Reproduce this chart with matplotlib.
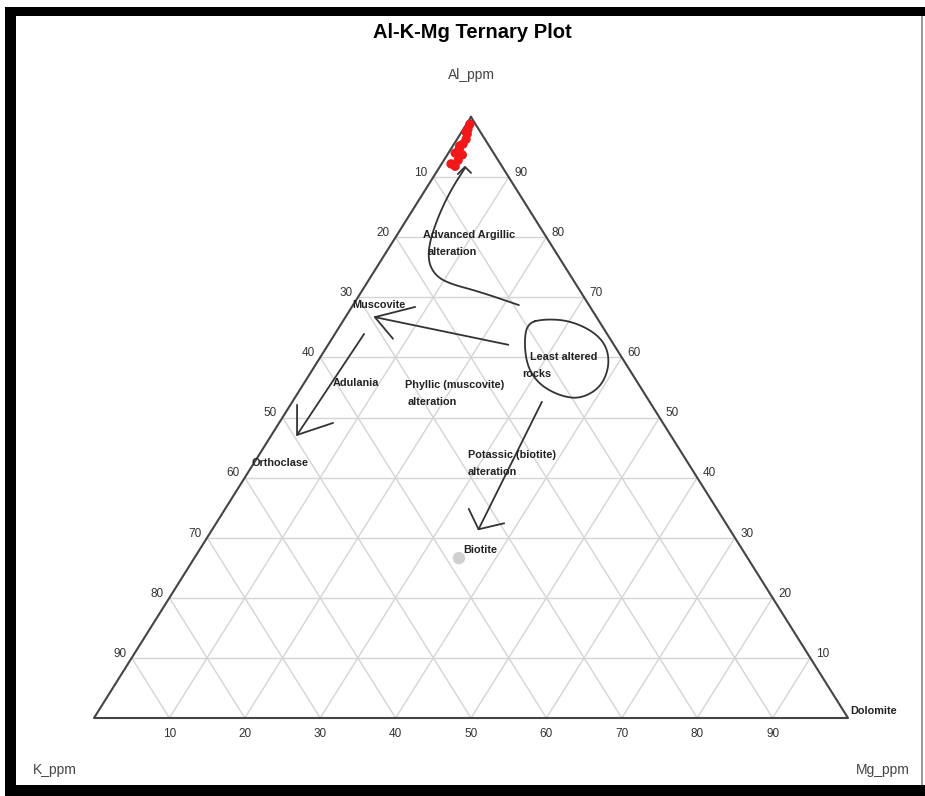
import numpy as np
import matplotlib
matplotlib.use("Agg")
import matplotlib.pyplot as plt
from matplotlib.patches import Rectangle

plt.rcParams['font.family'] = ['Liberation Sans', 'DejaVu Sans']

# sample points (percent)
al_pts = [98.8, 98.0, 97.5, 97.2, 96.3, 95.5, 95.2, 94.7, 94.0, 93.7, 92.8, 92.2, 91.8]
mg_pts = [0.45, 0.6, 0.6, 0.9, 1.2, 1.2, 0.9, 1.1, 0.9, 2.0, 1.9, 1.25, 2.0]
k_pts = [0.75, 1.4, 1.9, 1.9, 2.5, 3.3, 3.9, 4.2, 5.1, 4.3, 5.3, 6.55, 6.2]

# reference mineral (Biotite)
biotite_al, biotite_k, biotite_mg = 26.6, 38.3, 35.1

tick_vals = [10, 20, 30, 40, 50, 60, 70, 80, 90]

# hand drawn sketches, (Al, Mg) pairs in percent
argillic_path = [(68.7, 22.0), (70.9, 15.75), (72.4, 10.6), (73.9, 8.15), (76.2, 6.2),
                 (79.5, 4.8), (84.2, 3.8), (88.2, 3.4), (91.5, 3.45)]
argillic_head = [(90.5, 3.0), (91.7, 3.35), (90.7, 4.66)]
musc_path = [(62.1, 23.9), (66.7, 3.9)]
musc_head = [(68.4, 8.4), (66.7, 3.9), (63.1, 8.1)]
orth_path = [(63.9, 3.87), (47.1, 3.38)]
orth_head = [(52.1, 0.88), (47.1, 3.38), (49.1, 7.16)]
pot_path = [(52.6, 33.1), (31.4, 35.3)]
pot_head = [(34.8, 32.3), (31.4, 35.3), (32.4, 38.2)]
loop_path = [(65.7, 24.57), (66.4, 26.6), (66.1, 30.1), (64.2, 34.3), (61.6, 37.3),
             (58.2, 39.2), (54.9, 39.65), (53.1, 37.9), (53.6, 35.0), (55.4, 31.45),
             (58.2, 28.45), (62.1, 26.0)]

# field labels: text, Al, Mg
labels = [
    ("Advanced Argillic", 80.4, 3.45),
    ("alteration", 77.5, 5.5),
    ("Muscovite", 68.7, -0.1),
    ("Least altered", 60.1, 27.8),
    ("rocks", 57.2, 28.2),
    ("Adulania", 55.7, 3.8),
    ("Phyllic (muscovite)", 55.4, 13.5),
    ("alteration", 52.6, 15.35),
    ("Orthoclase", 42.4, -0.3),
    ("Potassic (biotite)", 43.8, 27.7),
    ("alteration", 40.9, 29.1),
    ("Biotite", 28.0, 34.95),
    ("Dolomite", 1.2, 99.7),
]


def to_xy(al, mg):
    al = np.asarray(al, dtype=float)
    mg = np.asarray(mg, dtype=float)
    return mg + al / 2.0, al


def chaikin(pts, n=3, closed=False):
    pts = np.asarray(pts, dtype=float)
    for _ in range(n):
        if closed:
            nxt = np.roll(pts, -1, axis=0)
        else:
            nxt = pts[1:]
            pts = pts[:-1]
        q = 0.75 * pts + 0.25 * nxt
        r = 0.25 * pts + 0.75 * nxt
        new = np.empty((2 * len(q), 2))
        new[0::2] = q
        new[1::2] = r
        if not closed:
            new = np.vstack([pts[:1], new, nxt[-1:]])
        pts = new
    if closed:
        pts = np.vstack([pts, pts[:1]])
    return pts


W, H = 925, 796
fig = plt.figure(figsize=(W / 100, H / 100), dpi=100)
ax = fig.add_axes([0, 0, 1, 1])
ax.set_xlim(-94 / 7.54, (W - 94) / 7.54)
ax.set_ylim((718 - H) / 6.01, 718 / 6.01)
ax.axis('off')

grid_c = '#d4d4d4'
for v in tick_vals:
    # constant Al
    x, y = to_xy([v, v], [0, 100 - v])
    ax.plot(x, y, color=grid_c, lw=1, zorder=1)
    # constant Mg
    x, y = to_xy([0, 100 - v], [v, v])
    ax.plot(x, y, color=grid_c, lw=1, zorder=1)
    # constant K
    x, y = to_xy([0, 100 - v], [100 - v, 0])
    ax.plot(x, y, color=grid_c, lw=1, zorder=1)

x, y = to_xy([100, 0, 0, 100], [0, 0, 100, 0])
ax.plot(x, y, color='#444444', lw=1.5, zorder=2)

tick_c = '#333333'
for v in tick_vals:
    x, y = to_xy(100 - v, 0)
    ax.annotate(str(v), (x, y), xytext=(-4, 3), textcoords='offset points',
                ha='right', va='center', fontsize=8.5, color=tick_c)
    x, y = to_xy(v, 100 - v)
    ax.annotate(str(v), (x, y), xytext=(4, 3), textcoords='offset points',
                ha='left', va='center', fontsize=8.5, color=tick_c)
    x, y = to_xy(0, v)
    ax.annotate(str(v), (x, y), xytext=(0, -11.5), textcoords='offset points',
                ha='center', va='center', fontsize=8.5, color=tick_c)

sk = dict(color='#333333', lw=1.3, zorder=4, solid_capstyle='round', solid_joinstyle='round')
p = np.column_stack(to_xy([a for a, m in argillic_path], [m for a, m in argillic_path]))
p = chaikin(p)
ax.plot(p[:, 0], p[:, 1], **sk)
for seg in [argillic_head, musc_path, musc_head, orth_path, orth_head, pot_path, pot_head]:
    x, y = to_xy([a for a, m in seg], [m for a, m in seg])
    ax.plot(x, y, **sk)
p = np.column_stack(to_xy([a for a, m in loop_path], [m for a, m in loop_path]))
p = chaikin(p, closed=True)
ax.plot(p[:, 0], p[:, 1], **sk)

for txt, a, m in labels:
    x, y = to_xy(a, m)
    ax.text(x, y, txt, ha='left', va='center', fontsize=7.8, fontweight='bold',
            color='#222222', zorder=5)

x, y = to_xy(al_pts, mg_pts)
ax.scatter(x, y, s=45, color='#f01818', edgecolors='none', zorder=6)
x, y = to_xy(biotite_al, biotite_mg)
ax.scatter([x], [y], s=80, color='#d0d0d0', edgecolors='none', zorder=6)

fig.text(472 / W, 1 - 33 / H, "Al-K-Mg Ternary Plot", ha='center', va='center',
         fontsize=14.5, fontweight='bold')
fig.text(471 / W, 1 - 75 / H, "Al_ppm", ha='center', va='center', fontsize=10, color='#444444')
fig.text(33 / W, 1 - 770 / H, "K_ppm", ha='left', va='center', fontsize=10, color='#444444')
fig.text(910 / W, 1 - 770 / H, "Mg_ppm", ha='right', va='center', fontsize=10, color='#444444')


def frame_rect(x0, y0, x1, y1, color):
    fig.add_artist(Rectangle((x0 / W, 1 - y1 / H), (x1 - x0) / W, (y1 - y0) / H,
                             transform=fig.transFigure, color=color, lw=0))


frame_rect(5, 7, W, 16, 'black')
frame_rect(5, 7, 16, H, 'black')
frame_rect(5, 785, W, H, 'black')
frame_rect(921, 16, 923, 785, '#999999')

fig.savefig("out.png", dpi=100)
